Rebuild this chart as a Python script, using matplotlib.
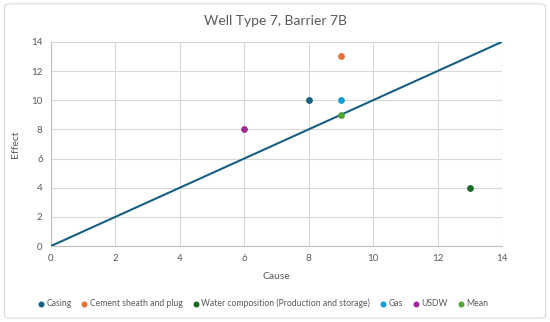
import matplotlib.pyplot as plt
from matplotlib.patches import FancyBboxPatch

labels = ['Casing', 'Cement sheath and plug', 'Water composition (Production and storage)',
          'Gas', 'USDW', 'Mean']
cause = [8, 9, 13, 9, 6, 9]
effect = [10, 13, 4, 10, 8, 9]
colors = ['#156082', '#E97132', '#196B24', '#0F9ED5', '#A02B93', '#4EA72E']
line_x = [0, 14]
line_y = [0, 14]

plt.rcParams['font.family'] = ['Lato', 'DejaVu Sans']

fig = plt.figure(figsize=(5.5, 3.22), dpi=100)
fig.patches.append(FancyBboxPatch((0.008, 0.012), 0.984, 0.976, boxstyle='round,pad=0,rounding_size=0.01',
                                  transform=fig.transFigure, facecolor='white',
                                  edgecolor='#d9d9d9', linewidth=0.8, zorder=-1))
ax = fig.add_axes([0.0927, 0.236, 0.82, 0.634])
ax.patch.set_alpha(0)

ax.plot(line_x, line_y, color='#156082', linewidth=1.5, zorder=3)
for l, x, y, c in zip(labels, cause, effect, colors):
    ax.scatter(x, y, s=15, color=c, label=l, zorder=4)

ax.set_xlim(0, 14)
ax.set_ylim(0, 14)
ax.set_xticks(range(0, 15, 2))
ax.set_yticks(range(0, 15, 2))
ax.grid(True, color='#d9d9d9', linewidth=0.8)
ax.set_axisbelow(True)
for s in ['top', 'right']:
    ax.spines[s].set_visible(False)
for s in ['left', 'bottom']:
    ax.spines[s].set_color('#bfbfbf')
ax.tick_params(length=0, labelsize=7, colors='#595959', pad=6)

ax.set_xlabel('Cause', fontsize=7.5, color='#595959', labelpad=6)
ax.set_ylabel('Effect', fontsize=7.5, color='#595959', labelpad=8)
fig.text(0.5, 0.935, 'Well Type 7, Barrier 7B', ha='center', va='center',
         fontsize=10, color='#595959')

leg = fig.legend(loc='center', bbox_to_anchor=(0.477, 0.058), ncol=6, frameon=False,
                 fontsize=6.2, handletextpad=0.15, columnspacing=1.0,
                 markerscale=0.85, handlelength=1)
for t in leg.get_texts():
    t.set_color('#595959')

fig.savefig('out.png', dpi=100)
